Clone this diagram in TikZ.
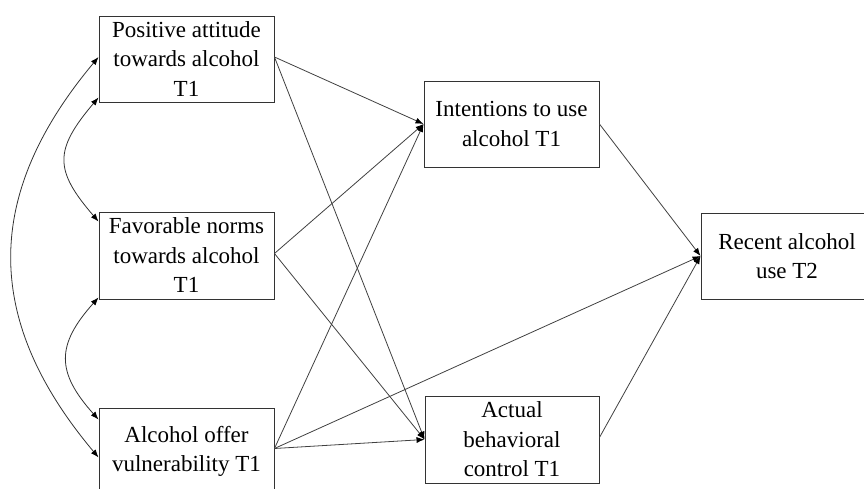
\documentclass[tikz,border=0pt]{standalone}
\usepackage{fontspec}
\setmainfont{Liberation Serif}
\usetikzlibrary{arrows.meta}
\begin{document}
\begin{tikzpicture}[x=1pt,y=-1pt,
  box/.style={draw=black!80,line width=0.9pt,rectangle,inner sep=0pt,
    minimum width=175pt,minimum height=86pt,align=center,
    font=\fontsize{23}{29.5}\selectfont,
    execute at begin node={\rule{0pt}{23pt}}},
  path/.style={draw=black!75,line width=0.8pt,-{Latex[length=8pt,width=6pt,color=black]}},
  cov/.style={draw=black!80,line width=0.8pt,{Latex[length=8pt,width=6pt,color=black]}-{Latex[length=8pt,width=6pt,color=black]}}]
\useasboundingbox (0,0) rectangle (864,489);
\clip (0,0) rectangle (864,489);
\node[box] (b1) at (186.5,59) {Positive attitude\\towards alcohol\\T1};
\node[box,minimum height=87pt] (b2) at (186.5,255.5) {Favorable norms\\towards alcohol\\T1};
\node[box,minimum height=87pt] (b3) at (186.5,451.5) {Alcohol offer\\vulnerability T1};
\node[box] (int) at (511.5,124) {Intentions to use\\alcohol T1};
\node[box,minimum height=87pt,minimum width=174pt] (abc) at (512,439.5) {Actual\\behavioral\\control T1};
\node[box,minimum width=172pt] (rec) at (787,256) {Recent alcohol\\use T2};
% paths
\draw[path] ([yshift=2pt]b1.east) -- (int.west);
\draw[path] ([yshift=2pt]b1.east) -- (abc.west);
\draw[path] ([yshift=2pt]b2.east) -- (int.west);
\draw[path] ([yshift=2pt]b2.east) -- (abc.west);
\draw[path] ([yshift=3pt]b3.east) -- (int.west);
\draw[path] ([yshift=3pt]b3.east) -- (abc.west);
\draw[path] ([yshift=3pt]b3.east) -- (rec.west);
\draw[path] (int.east) -- (rec.west);
\draw[path] ([yshift=2pt]abc.east) -- (rec.west);
% covariances
\draw[cov] ([yshift=2pt]b1.west) .. controls (-17,195) and (-17,320) .. ([yshift=-6pt]b3.west);
\draw[cov] ([yshift=5pt]b1.south west) .. controls (54,150) and (54,170) .. ([yshift=-10pt]b2.north west);
\draw[cov] ([yshift=2pt]b2.south west) .. controls (56,345) and (56,372) .. ([yshift=-12pt]b3.north west);
\end{tikzpicture}
\end{document}
